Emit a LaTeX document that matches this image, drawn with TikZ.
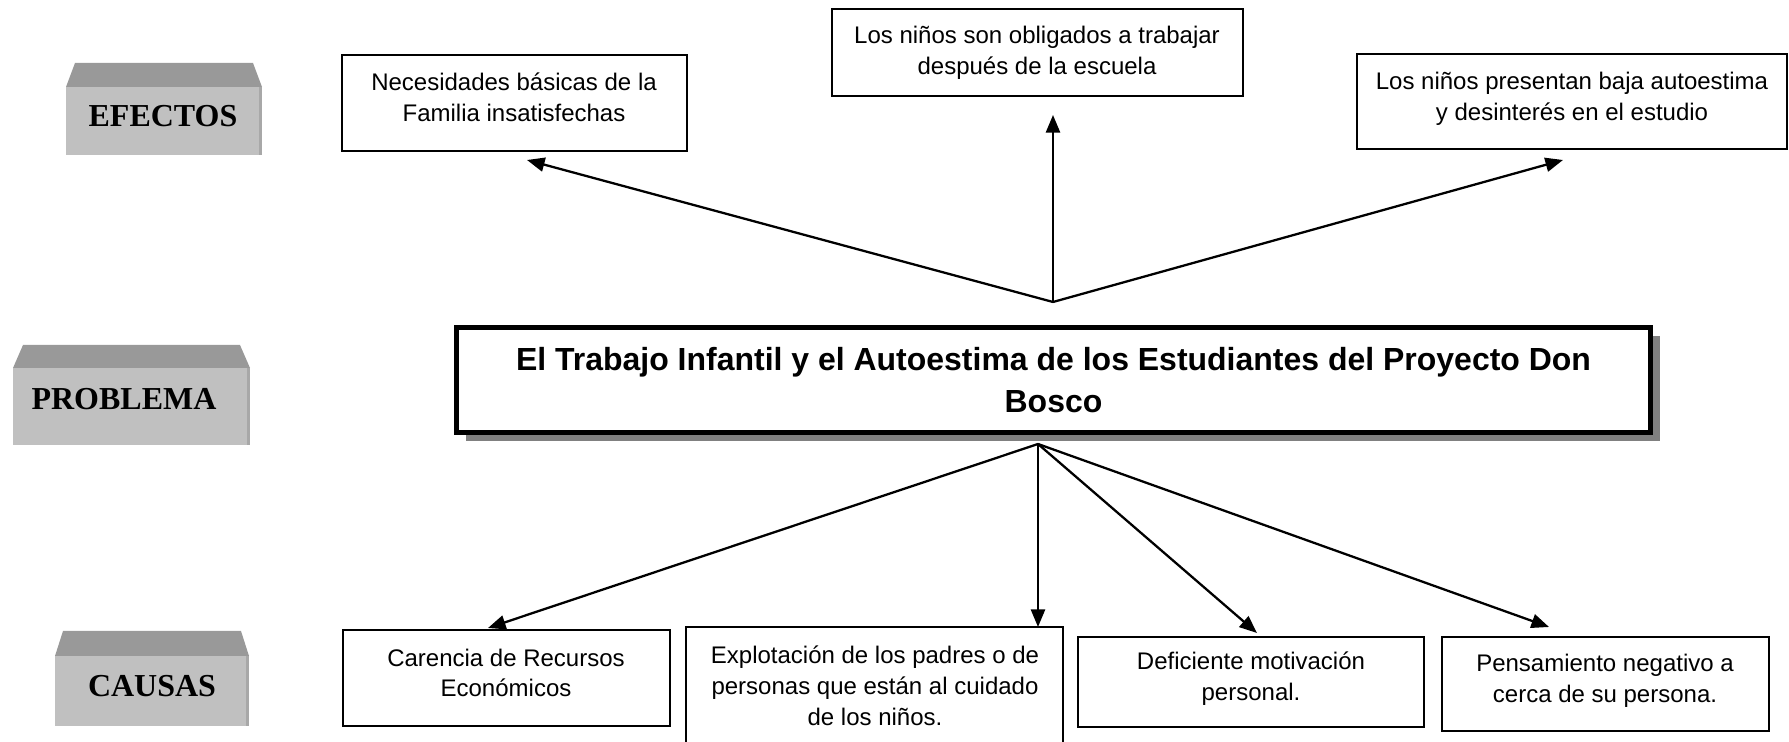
\documentclass[tikz,border=0pt]{standalone}
\usepackage{fontspec}
\setmainfont{Liberation Sans}
\newfontfamily\romana{Liberation Serif}
\usetikzlibrary{arrows.meta,shadows}
\definecolor{techo}{HTML}{999999}
\definecolor{frente}{HTML}{C0C0C0}
\definecolor{borde}{HTML}{A8A8A8}
\definecolor{sombra}{HTML}{808080}

\begin{document}
\begin{tikzpicture}[x=0.02cm,y=-0.02cm,
    caja/.style={draw,line width=1pt,inner sep=0pt},
    texto/.style={align=center,font=\fontsize{13.66}{17.5}\selectfont},
    flecha/.style={line width=1.3pt,-{Triangle[length=10pt,width=8pt]}},
    rotulo/.style={font=\romana\bfseries\fontsize{18.2}{22}\selectfont}]
    \useasboundingbox (0,0) rectangle (1789,742);
    \clip (0,0) rectangle (1789,742);

    % Labels on the left
    \foreach \l/\r/\t/\b/\f/\i in {66/262/63/87/155/9, 13/250/345/368/445/10, 55/249/631/656/726/8}{
        \fill[techo] (\l+\i,\t) -- (\r-\i,\t) -- (\r,\b) -- (\l,\b) -- cycle;
        \fill[frente] (\l,\b) rectangle (\r,\f);
        \fill[borde] (\r-3,\b) rectangle (\r,\f);
    }
    \node[rotulo] (efectos) at (163,116) {EFECTOS};
    \node[rotulo] (problema) at (124,399) {PROBLEMA};
    \node[rotulo] (causas) at (152,686) {CAUSAS};

    % Problem
    \node[draw,line width=2.9pt,fill=white,minimum width=23.88cm,minimum height=2.1cm,
          drop shadow={shadow xshift=5.5pt,shadow yshift=-4.8pt,opacity=1,fill=sombra},
          align=center,font=\bfseries\fontsize{18.2}{23.5}\selectfont]
          (tema) at (1053.5,380) {El Trabajo Infantil y el Autoestima de los Estudiantes del Proyecto Don\\Bosco};

    % Effects
    \node[caja,minimum width=6.9cm,minimum height=1.92cm] (nec) at (514.5,103) {};
    \node[texto] (tnec) at (514,97) {Necesidades básicas de la\\Familia insatisfechas};
    \node[caja,minimum width=8.22cm,minimum height=1.74cm] (obl) at (1037.5,52.5) {};
    \node[texto] (tobl) at (1037,53) {Los niños son obligados a trabajar\\después de la escuela};
    \node[caja,minimum width=8.6cm,minimum height=1.9cm] (baja) at (1572,101.5) {};
    \node[texto] (tbaja) at (1572,98.5) {Los niños presentan baja autoestima\\y desinterés en el estudio};

    % Causes
    \node[caja,minimum width=6.54cm,minimum height=1.92cm] (car) at (506.5,678) {};
    \node[texto] (tcar) at (506,673) {Carencia de Recursos\\Económicos};
    \node[caja,minimum width=7.54cm,minimum height=2.8cm] (exp) at (874.5,697) {};
    \node[texto] (texp) at (875,686) {Explotación de los padres o de\\personas que están al cuidado\\de los niños.};
    \node[caja,minimum width=6.92cm,minimum height=1.8cm] (def) at (1251,682) {};
    \node[texto] (tdef) at (1251,678.5) {Deficiente motivación\\personal.};
    \node[caja,minimum width=6.54cm,minimum height=1.88cm] (pen) at (1605.5,684) {};
    \node[texto] (tpen) at (1605,680.5) {Pensamiento negativo a\\cerca de su persona.};

    % Arrows
    \coordinate (arriba) at (1053,302);
    \coordinate (abajo) at (1038,444);
    \coordinate (pnec) at (527,160);
    \coordinate (pobl) at (1053,115);
    \coordinate (pbaja) at (1563,160);
    \coordinate (pcar) at (488,628);
    \coordinate (pexp) at (1038,627);
    \coordinate (pdef) at (1257,633);
    \coordinate (ppen) at (1549,627);
    \foreach \p in {pnec,pobl,pbaja}
        \draw[flecha] (arriba) -- (\p);
    \foreach \p in {pcar,pexp,pdef,ppen}
        \draw[flecha] (abajo) -- (\p);

\end{tikzpicture}
\end{document}
